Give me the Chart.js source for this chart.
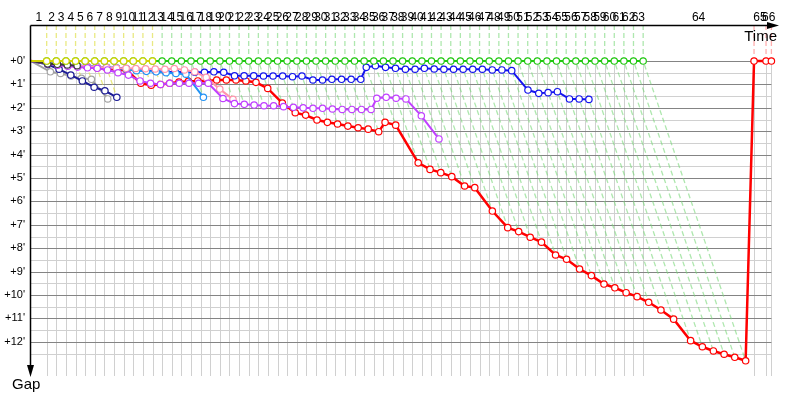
<!DOCTYPE html>
<html><head><meta charset="utf-8">
<script src="https://cdn.jsdelivr.net/npm/chart.js@4/dist/chart.umd.min.js"></script>
<style>html,body{margin:0;padding:0;background:#fff;}canvas{display:block;}</style>
</head><body>
<canvas id="c" width="800" height="400"></canvas>
<script>
// ---- data ----
const stageLabels = ["1","2","3","4","5","6","7","8","9","10","11","12","13","14","15","16","17","18","19","20","21","22","23","24","25","26","27","28","29","30","31","32","33","34","35","36","37","38","39","40","41","42","43","44","45","46","47","48","49","50","51","52","53","54","55","56","57","58","59","60","61","62","63","64","65","66"];
// leader's passing time of each stage (minutes)
const stageTimes = [1.96,3.16,4.37,5.57,6.77,7.97,9.18,10.38,11.58,12.78,13.99,15.19,16.39,17.59,18.80,20.00,21.20,22.40,23.61,24.81,26.01,27.21,28.42,29.62,30.82,32.02,33.23,34.43,35.63,36.83,38.04,39.24,40.44,41.64,42.85,44.05,45.25,46.45,47.66,48.86,50.06,51.26,52.47,53.67,54.87,56.07,57.28,58.48,59.68,60.88,62.09,63.29,64.49,65.69,66.90,68.10,69.30,70.50,71.71,72.91,74.11,75.31,76.52,90.38,91.88,92.55];
const gapTicks = ["+0'","+1'","+2'","+3'","+4'","+5'","+6'","+7'","+8'","+9'","+10'","+11'","+12'"];

// gaps (minutes) at stage 1, 2, 3 ...
const yellowGaps = [0,0,0,0,0,0,0,0,0,0,0,0];
const greenGaps = [0,0,0,0,0,0,0,0,0,0,0,0,0,0,0,0,0,0,0,0,0,0,0,0,0,0,0,0,0,0,0,0,0,0,0,0,0,0,0,0,0,0,0,0,0,0,0,0,0,0,0,0,0,0,0,0,0,0,0,0,0,0,0];
const darkGrayGaps = [0.12,0.14,0.17,0.2];
const violetGaps = [0.12,0.18,0.22,0.26,0.29,0.31,0.38,0.5,0.6,0.85,0.95,1.0,0.95,0.95,0.95,0.95,0.95,1.6,1.82,1.85,1.88,1.91,1.91,1.95,1.98,2.0,2.02,2.02,2.05,2.07,2.07,2.07,2.07,1.59,1.55,1.59,1.62,2.34,3.33];
const pinkGaps = [0.1,0.13,0.16,0.19,0.22,0.25,0.28,0.3,0.31,0.32,0.33,0.34,0.35,0.32,0.38,0.46,0.7,1.2,1.64];
const lightBlueGaps = [0.08,0.12,0.15,0.18,0.21,0.24,0.27,0.3,0.35,0.41,0.44,0.46,0.5,0.53,0.56,1.55];
const blueGaps = [0.1,0.14,0.17,0.2,0.22,0.25,0.28,0.3,0.32,0.38,0.42,0.44,0.46,0.47,0.47,0.48,0.48,0.46,0.48,0.63,0.63,0.63,0.64,0.64,0.64,0.67,0.64,0.81,0.81,0.78,0.78,0.78,0.78,0.27,0.2,0.27,0.31,0.35,0.35,0.31,0.34,0.35,0.35,0.35,0.35,0.35,0.38,0.38,0.41,1.24,1.38,1.35,1.31,1.62,1.62,1.64];
const navyGaps = [0.15,0.35,0.6,0.85,1.12,1.27,1.55];
const grayGaps = [0.46,0.53,0.64,0.74,0.78,1.62];
const redGaps = [0.1,0.15,0.18,0.22,0.25,0.3,0.33,0.37,0.4,0.95,1.03,1.0,0.95,0.9,0.87,0.85,0.85,0.81,0.81,0.81,0.85,0.91,1.17,1.8,2.21,2.31,2.52,2.62,2.69,2.78,2.85,2.91,3.02,2.62,2.74,4.35,4.63,4.77,4.94,5.34,5.41,6.41,7.12,7.29,7.53,7.74,8.29,8.47,8.89,9.17,9.53,9.69,9.9,10.07,10.31,10.64,11.03,11.95,12.21,12.39,12.53,12.66,12.81,0,0,0];

// ---- styling ----
const series = [
  {gaps: yellowGaps, color: '#d2d200', dash: 'rgba(225,225,90,0.75)'},
  {gaps: greenGaps, color: '#22c812', dash: 'rgba(120,215,120,0.6)'},
  {gaps: darkGrayGaps, color: '#3a3a3a'},
  {gaps: violetGaps, color: '#c040ff'},
  {gaps: pinkGaps, color: '#ff96ae'},
  {gaps: lightBlueGaps, color: '#2394f5'},
  {gaps: blueGaps, color: '#1414ee'},
  {gaps: navyGaps, color: '#1c1c96'},
  {gaps: grayGaps, color: '#a2a2a2'},
  {gaps: redGaps, color: '#ff0000', dash: 'rgba(255,120,120,0.6)', width: 2.5}
];
const leaderOrder = [0, 1, 9]; // yellow, green, red may lead

const Y_MIN = -1.54, Y_MAX = 13.46, X_MAX = 93.5;

const datasets = series.map(s => ({
  data: [{x: 0, y: 0}].concat(s.gaps.map((g, i) => ({x: stageTimes[i] + g, y: g}))),
  borderColor: s.color,
  borderWidth: s.width || 2,
  pointRadius: ctx => ctx.dataIndex === 0 ? 0 : 3.2,
  pointBackgroundColor: '#ffffff',
  pointBorderColor: s.color,
  pointBorderWidth: 1.2,
  tension: 0,
  fill: false
}));

// iso-stage dashed lines (leader at top, then through every rider of the stage)
stageTimes.forEach((t, i) => {
  let leader = null, gmax = 0;
  leaderOrder.forEach(k => { if (!leader && series[k].gaps[i] === 0) leader = series[k]; });
  series.forEach(s => { if (s.gaps[i] !== undefined && s.gaps[i] > gmax) gmax = s.gaps[i]; });
  if (!leader) return;
  datasets.push({
    data: [{x: t, y: Y_MIN}, {x: t, y: 0}, {x: t + gmax, y: gmax}],
    borderColor: leader.dash,
    borderWidth: 1.3,
    borderDash: [5, 3],
    pointRadius: 0,
    tension: 0,
    fill: false
  });
});

const decor = {
  id: 'decor',
  beforeDatasetsDraw(chart) {
    const {ctx, chartArea: a, scales: {x, y}} = chart;
    const xL = x.getPixelForValue(0);
    const xR = x.getPixelForValue(stageTimes[stageTimes.length - 1]);
    const y0 = y.getPixelForValue(0);
    ctx.save();
    ctx.lineWidth = 1;
    ctx.strokeStyle = '#d0d0d0';
    stageTimes.forEach(t => {
      const px = Math.round(x.getPixelForValue(t)) + 0.5;
      ctx.beginPath(); ctx.moveTo(px, y0); ctx.lineTo(px, a.bottom); ctx.stroke();
    });
    gapTicks.forEach((lab, i) => {
      const py = Math.round(y.getPixelForValue(i + 0.5)) + 0.5;
      ctx.beginPath(); ctx.moveTo(xL, py); ctx.lineTo(xR, py); ctx.stroke();
    });
    ctx.strokeStyle = '#848484';
    gapTicks.forEach((lab, i) => {
      const py = Math.round(y.getPixelForValue(i)) + 0.5;
      ctx.beginPath(); ctx.moveTo(xL, py); ctx.lineTo(xR, py); ctx.stroke();
    });
    ctx.restore();
  },
  afterDraw(chart) {
    const {ctx, chartArea: a, scales: {x, y}} = chart;
    const ax = a.left - 0.5, ay = a.top + 0.5;
    ctx.save();
    ctx.strokeStyle = '#000'; ctx.fillStyle = '#000'; ctx.lineWidth = 1.5;
    // top (time) axis with arrow
    ctx.beginPath(); ctx.moveTo(ax, ay); ctx.lineTo(a.right - 11, ay); ctx.stroke();
    ctx.beginPath(); ctx.moveTo(a.right - 12, ay - 3.5); ctx.lineTo(a.right, ay); ctx.lineTo(a.right - 12, ay + 3.5); ctx.closePath(); ctx.fill();
    // left (gap) axis with arrow
    ctx.beginPath(); ctx.moveTo(ax, ay); ctx.lineTo(ax, a.bottom - 10); ctx.stroke();
    ctx.beginPath(); ctx.moveTo(ax - 3.5, a.bottom - 11); ctx.lineTo(ax, a.bottom + 1); ctx.lineTo(ax + 3.5, a.bottom - 11); ctx.closePath(); ctx.fill();
    // stage labels centred on each stage interval
    ctx.font = '12px "Liberation Sans", Arial, sans-serif';
    ctx.textAlign = 'center'; ctx.textBaseline = 'alphabetic';
    stageLabels.forEach((lab, i) => {
      const t0 = i === 0 ? 0 : stageTimes[i - 1];
      ctx.fillText(lab, x.getPixelForValue((t0 + stageTimes[i]) / 2), a.top - 4);
    });
    // gap labels
    ctx.font = '11px "Liberation Sans", Arial, sans-serif';
    ctx.textAlign = 'right'; ctx.textBaseline = 'middle';
    gapTicks.forEach((lab, i) => ctx.fillText(lab, a.left - 6, y.getPixelForValue(i)));
    // axis titles
    ctx.font = '15px "Liberation Sans", Arial, sans-serif';
    ctx.textAlign = 'right'; ctx.textBaseline = 'alphabetic';
    ctx.fillText('Time', a.right - 2, a.top + 16);
    ctx.textAlign = 'left';
    ctx.fillText('Gap', 12, a.bottom + 13);
    ctx.restore();
  }
};

new Chart(document.getElementById('c'), {
  type: 'line',
  data: {datasets},
  options: {
    responsive: false,
    animation: false,
    devicePixelRatio: 1,
    layout: {padding: {left: 31, top: 25, right: 21, bottom: 24}},
    plugins: {legend: {display: false}, tooltip: {enabled: false}},
    scales: {
      x: {type: 'linear', min: 0, max: X_MAX, display: false},
      y: {type: 'linear', min: Y_MIN, max: Y_MAX, reverse: true, display: false}
    }
  },
  plugins: [decor]
});
</script>
</body></html>
